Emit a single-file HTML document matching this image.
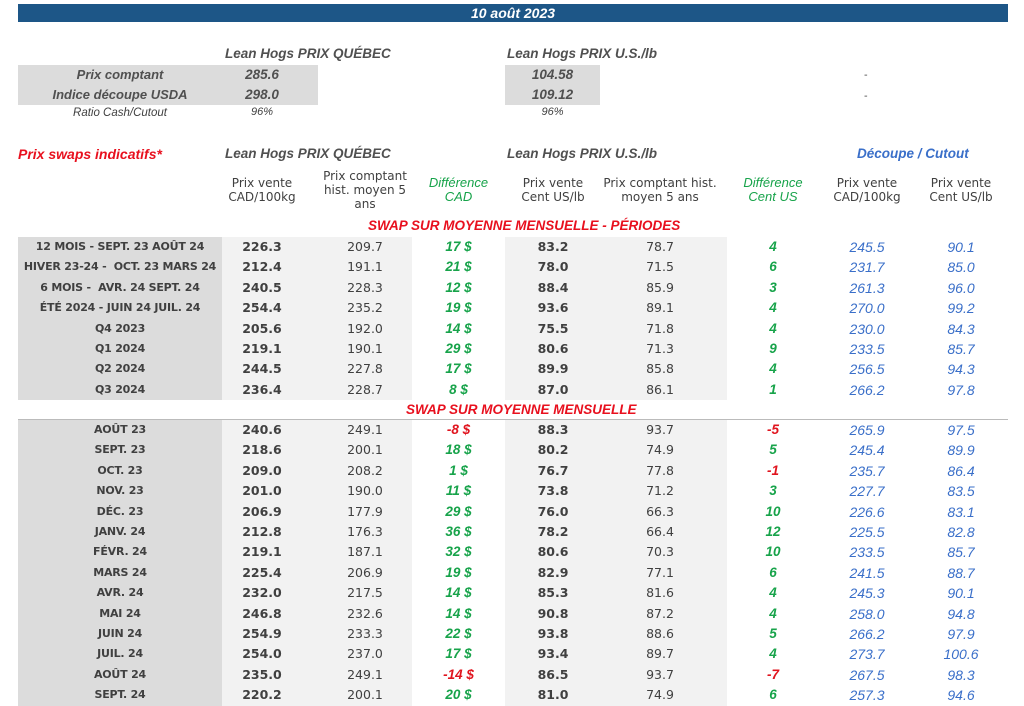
<!DOCTYPE html>
<html><head><meta charset="utf-8"><style>
body{margin:0;width:1024px;height:706px;background:#fff;position:relative;overflow:hidden;font-family:"DejaVu Sans","Liberation Sans",sans-serif;color:#404040}
.a{position:absolute}
.bar{left:18px;top:4px;width:990px;height:18px;background:#1d5687;color:#fff;font:italic bold 14px "Liberation Sans",sans-serif;text-align:center;line-height:18px}
.it{font-family:"Liberation Sans",sans-serif;font-style:italic;font-weight:bold;font-size:13.5px;color:#505050}
.r{position:absolute;left:0;width:1024px;height:20.4px;line-height:20.4px;font-size:12.5px;font-weight:bold}
.r span{position:absolute;text-align:center;top:0;white-space:nowrap}
.c0{left:18px;width:204px;font-size:11px;letter-spacing:-0.2px}
.c1{left:222px;width:80px}.c2{left:322px;width:86px;font-weight:normal}
.c3{left:412px;width:93px;color:#17a34a;font-style:italic;font-family:"Liberation Sans",sans-serif;font-size:13.5px}
.c4{left:512px;width:82px}.c5{left:610px;width:100px;font-weight:normal}
.c6{left:728px;width:90px;color:#17a34a;font-style:italic;font-family:"Liberation Sans",sans-serif;font-size:13.5px}
.c7{left:820px;width:94px;color:#3a6fc9;font-style:italic;font-weight:normal;font-family:"Liberation Sans",sans-serif;font-size:14px}
.c8{left:914px;width:94px;color:#3a6fc9;font-style:italic;font-weight:normal;font-family:"Liberation Sans",sans-serif;font-size:14px}
.neg{color:#e0141e!important}
.h{position:absolute;font-size:12px;text-align:center;line-height:14px;color:#404040}
.sec{font-family:"Liberation Sans",sans-serif;font-style:italic;font-weight:bold;font-size:13.5px;color:#e8101e}
</style></head><body>
<div class="a bar">10 août 2023</div>
<div class="a" style="left:18px;top:65px;width:300px;height:40px;background:#dcdcdc"></div>
<div class="a" style="left:505px;top:65px;width:95px;height:40px;background:#dcdcdc"></div>
<div class="a it" style="left:225px;top:46px">Lean Hogs PRIX QUÉBEC</div>
<div class="a it" style="left:507px;top:46px">Lean Hogs PRIX U.S./lb</div>
<div class="a it" style="left:18px;top:67px;width:204px;text-align:center;font-size:13px">Prix comptant</div>
<div class="a it" style="left:18px;top:87px;width:204px;text-align:center;font-size:13px">Indice découpe USDA</div>
<div class="a it" style="left:222px;top:67px;width:80px;text-align:center">285.6</div>
<div class="a it" style="left:222px;top:87px;width:80px;text-align:center">298.0</div>
<div class="a it" style="left:505px;top:67px;width:95px;text-align:center">104.58</div>
<div class="a it" style="left:505px;top:87px;width:95px;text-align:center">109.12</div>
<div class="a" style="left:18px;top:107px;width:204px;text-align:center;font:italic 11.5px 'Liberation Sans',sans-serif">Ratio Cash/Cutout</div>
<div class="a" style="left:222px;top:106px;width:80px;text-align:center;font:italic 11px 'Liberation Sans',sans-serif">96%</div>
<div class="a" style="left:505px;top:106px;width:95px;text-align:center;font:italic 11px 'Liberation Sans',sans-serif">96%</div>
<div class="a" style="left:864px;top:70px;font-size:10px">-</div>
<div class="a" style="left:864px;top:91px;font-size:10px">-</div>

<div class="a sec" style="left:18px;top:146px;font-size:14px">Prix swaps indicatifs*</div>
<div class="a it" style="left:225px;top:146px">Lean Hogs PRIX QUÉBEC</div>
<div class="a it" style="left:507px;top:146px">Lean Hogs PRIX U.S./lb</div>
<div class="a it" style="left:857px;top:146px;color:#3a6fc9">Découpe / Cutout</div>
<div class="h" style="left:222px;top:176px;width:80px">Prix vente<br>CAD/100kg</div>
<div class="h" style="left:312px;top:169px;width:106px">Prix comptant<br>hist. moyen 5<br>ans</div>
<div class="h" style="left:412px;top:176px;width:93px;color:#17a34a;font:italic 13px 'Liberation Sans',sans-serif;line-height:14px">Différence<br>CAD</div>
<div class="h" style="left:512px;top:176px;width:82px">Prix vente<br>Cent US/lb</div>
<div class="h" style="left:600px;top:176px;width:120px">Prix comptant hist.<br>moyen 5 ans</div>
<div class="h" style="left:728px;top:176px;width:90px;color:#17a34a;font:italic 13px 'Liberation Sans',sans-serif;line-height:14px">Différence<br>Cent US</div>
<div class="h" style="left:820px;top:176px;width:94px">Prix vente<br>CAD/100kg</div>
<div class="h" style="left:914px;top:176px;width:94px">Prix vente<br>Cent US/lb</div>
<div class="a sec" style="left:368px;top:218px">SWAP SUR MOYENNE MENSUELLE - PÉRIODES</div>

<div class="a" style="left:18px;top:237px;width:204px;height:163px;background:#dcdcdc"></div>
<div class="a" style="left:222px;top:237px;width:190px;height:163px;background:#f2f2f2"></div>
<div class="a" style="left:505px;top:237px;width:222px;height:163px;background:#f2f2f2"></div>
<div class="a sec" style="left:406px;top:402px">SWAP SUR MOYENNE MENSUELLE</div>
<div class="a" style="left:18px;top:419px;width:990px;height:1px;background:#bbb"></div>
<div class="a" style="left:18px;top:420px;width:204px;height:286px;background:#dcdcdc"></div>
<div class="a" style="left:222px;top:420px;width:190px;height:286px;background:#f2f2f2"></div>
<div class="a" style="left:505px;top:420px;width:222px;height:286px;background:#f2f2f2"></div>

<div class="r" style="top:237px"><span class="c0">12 MOIS - SEPT. 23 AOÛT 24</span><span class="c1">226.3</span><span class="c2">209.7</span><span class="c3">17 $</span><span class="c4">83.2</span><span class="c5">78.7</span><span class="c6">4</span><span class="c7">245.5</span><span class="c8">90.1</span></div>
<div class="r" style="top:257.4px"><span class="c0">HIVER 23-24 -&nbsp; OCT. 23 MARS 24</span><span class="c1">212.4</span><span class="c2">191.1</span><span class="c3">21 $</span><span class="c4">78.0</span><span class="c5">71.5</span><span class="c6">6</span><span class="c7">231.7</span><span class="c8">85.0</span></div>
<div class="r" style="top:277.8px"><span class="c0">6 MOIS -&nbsp; AVR. 24 SEPT. 24</span><span class="c1">240.5</span><span class="c2">228.3</span><span class="c3">12 $</span><span class="c4">88.4</span><span class="c5">85.9</span><span class="c6">3</span><span class="c7">261.3</span><span class="c8">96.0</span></div>
<div class="r" style="top:298.2px"><span class="c0">ÉTÉ 2024 - JUIN 24 JUIL. 24</span><span class="c1">254.4</span><span class="c2">235.2</span><span class="c3">19 $</span><span class="c4">93.6</span><span class="c5">89.1</span><span class="c6">4</span><span class="c7">270.0</span><span class="c8">99.2</span></div>
<div class="r" style="top:318.6px"><span class="c0">Q4 2023</span><span class="c1">205.6</span><span class="c2">192.0</span><span class="c3">14 $</span><span class="c4">75.5</span><span class="c5">71.8</span><span class="c6">4</span><span class="c7">230.0</span><span class="c8">84.3</span></div>
<div class="r" style="top:339px"><span class="c0">Q1 2024</span><span class="c1">219.1</span><span class="c2">190.1</span><span class="c3">29 $</span><span class="c4">80.6</span><span class="c5">71.3</span><span class="c6">9</span><span class="c7">233.5</span><span class="c8">85.7</span></div>
<div class="r" style="top:359.4px"><span class="c0">Q2 2024</span><span class="c1">244.5</span><span class="c2">227.8</span><span class="c3">17 $</span><span class="c4">89.9</span><span class="c5">85.8</span><span class="c6">4</span><span class="c7">256.5</span><span class="c8">94.3</span></div>
<div class="r" style="top:379.8px"><span class="c0">Q3 2024</span><span class="c1">236.4</span><span class="c2">228.7</span><span class="c3">8 $</span><span class="c4">87.0</span><span class="c5">86.1</span><span class="c6">1</span><span class="c7">266.2</span><span class="c8">97.8</span></div>

<div class="r" style="top:420px"><span class="c0">AOÛT 23</span><span class="c1">240.6</span><span class="c2">249.1</span><span class="c3 neg">-8 $</span><span class="c4">88.3</span><span class="c5">93.7</span><span class="c6 neg">-5</span><span class="c7">265.9</span><span class="c8">97.5</span></div>
<div class="r" style="top:440.4px"><span class="c0">SEPT. 23</span><span class="c1">218.6</span><span class="c2">200.1</span><span class="c3">18 $</span><span class="c4">80.2</span><span class="c5">74.9</span><span class="c6">5</span><span class="c7">245.4</span><span class="c8">89.9</span></div>
<div class="r" style="top:460.8px"><span class="c0">OCT. 23</span><span class="c1">209.0</span><span class="c2">208.2</span><span class="c3">1 $</span><span class="c4">76.7</span><span class="c5">77.8</span><span class="c6 neg">-1</span><span class="c7">235.7</span><span class="c8">86.4</span></div>
<div class="r" style="top:481.2px"><span class="c0">NOV. 23</span><span class="c1">201.0</span><span class="c2">190.0</span><span class="c3">11 $</span><span class="c4">73.8</span><span class="c5">71.2</span><span class="c6">3</span><span class="c7">227.7</span><span class="c8">83.5</span></div>
<div class="r" style="top:501.6px"><span class="c0">DÉC. 23</span><span class="c1">206.9</span><span class="c2">177.9</span><span class="c3">29 $</span><span class="c4">76.0</span><span class="c5">66.3</span><span class="c6">10</span><span class="c7">226.6</span><span class="c8">83.1</span></div>
<div class="r" style="top:522px"><span class="c0">JANV. 24</span><span class="c1">212.8</span><span class="c2">176.3</span><span class="c3">36 $</span><span class="c4">78.2</span><span class="c5">66.4</span><span class="c6">12</span><span class="c7">225.5</span><span class="c8">82.8</span></div>
<div class="r" style="top:542.4px"><span class="c0">FÉVR. 24</span><span class="c1">219.1</span><span class="c2">187.1</span><span class="c3">32 $</span><span class="c4">80.6</span><span class="c5">70.3</span><span class="c6">10</span><span class="c7">233.5</span><span class="c8">85.7</span></div>
<div class="r" style="top:562.8px"><span class="c0">MARS 24</span><span class="c1">225.4</span><span class="c2">206.9</span><span class="c3">19 $</span><span class="c4">82.9</span><span class="c5">77.1</span><span class="c6">6</span><span class="c7">241.5</span><span class="c8">88.7</span></div>
<div class="r" style="top:583.2px"><span class="c0">AVR. 24</span><span class="c1">232.0</span><span class="c2">217.5</span><span class="c3">14 $</span><span class="c4">85.3</span><span class="c5">81.6</span><span class="c6">4</span><span class="c7">245.3</span><span class="c8">90.1</span></div>
<div class="r" style="top:603.6px"><span class="c0">MAI 24</span><span class="c1">246.8</span><span class="c2">232.6</span><span class="c3">14 $</span><span class="c4">90.8</span><span class="c5">87.2</span><span class="c6">4</span><span class="c7">258.0</span><span class="c8">94.8</span></div>
<div class="r" style="top:624px"><span class="c0">JUIN 24</span><span class="c1">254.9</span><span class="c2">233.3</span><span class="c3">22 $</span><span class="c4">93.8</span><span class="c5">88.6</span><span class="c6">5</span><span class="c7">266.2</span><span class="c8">97.9</span></div>
<div class="r" style="top:644.4px"><span class="c0">JUIL. 24</span><span class="c1">254.0</span><span class="c2">237.0</span><span class="c3">17 $</span><span class="c4">93.4</span><span class="c5">89.7</span><span class="c6">4</span><span class="c7">273.7</span><span class="c8">100.6</span></div>
<div class="r" style="top:664.8px"><span class="c0">AOÛT 24</span><span class="c1">235.0</span><span class="c2">249.1</span><span class="c3 neg">-14 $</span><span class="c4">86.5</span><span class="c5">93.7</span><span class="c6 neg">-7</span><span class="c7">267.5</span><span class="c8">98.3</span></div>
<div class="r" style="top:685.2px"><span class="c0">SEPT. 24</span><span class="c1">220.2</span><span class="c2">200.1</span><span class="c3">20 $</span><span class="c4">81.0</span><span class="c5">74.9</span><span class="c6">6</span><span class="c7">257.3</span><span class="c8">94.6</span></div>
</body></html>
